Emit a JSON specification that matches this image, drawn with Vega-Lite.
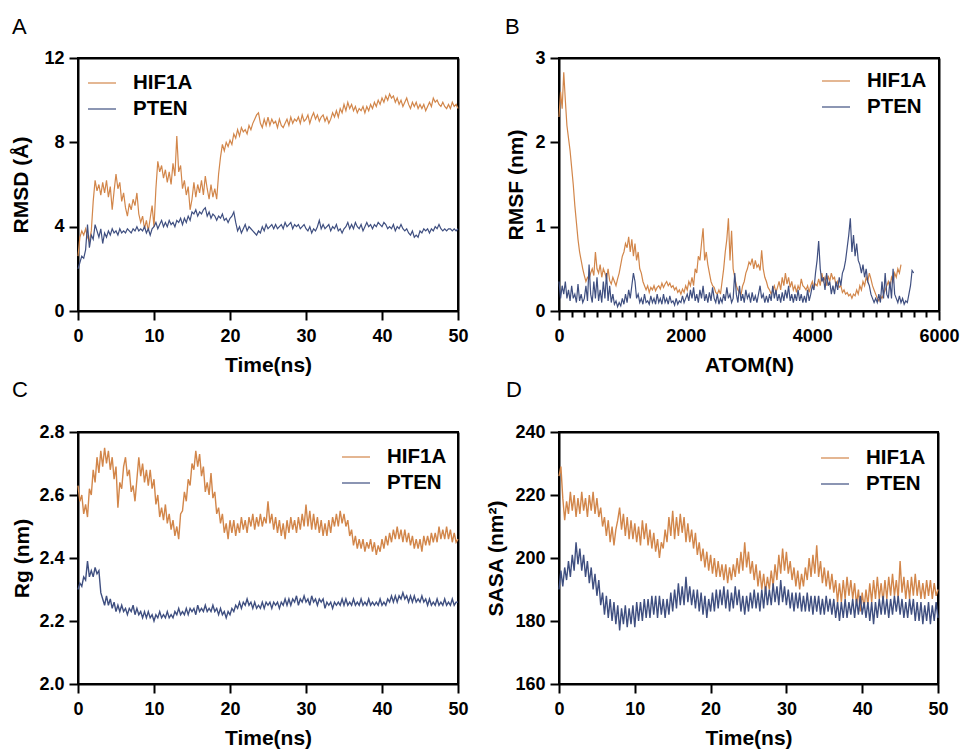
{
"$schema": "https://vega.github.io/schema/vega-lite/v6.json",
"background": "white",
"padding": {"left": 9, "top": 15, "right": 0, "bottom": 0},
"datasets": {
"a": [
{"t":0,"h":2.6,"p":2.0},{"t":0.25,"h":3.5,"p":2.3},{"t":0.5,"h":3.8,"p":2.6},{"t":0.75,"h":3.6,"p":2.5},{"t":1,"h":3.9,"p":2.9},{"t":1.25,"h":3.5,"p":4.1},{"t":1.5,"h":3.3,"p":3.0},{"t":1.75,"h":3.8,"p":3.6},{"t":2,"h":5.2,"p":3.4},{"t":2.25,"h":6.2,"p":4.1},{"t":2.5,"h":5.7,"p":3.8},{"t":2.75,"h":6.0,"p":3.5},{"t":3,"h":5.5,"p":3.9},{"t":3.25,"h":6.1,"p":3.2},{"t":3.5,"h":5.6,"p":3.7},{"t":3.75,"h":6.2,"p":3.5},{"t":4,"h":5.4,"p":3.8},{"t":4.25,"h":5.9,"p":3.6},{"t":4.5,"h":4.8,"p":3.9},{"t":4.75,"h":5.7,"p":3.7},{"t":5,"h":6.5,"p":3.8},{"t":5.25,"h":5.8,"p":3.6},{"t":5.5,"h":6.1,"p":3.9},{"t":5.75,"h":5.2,"p":3.7},{"t":6,"h":5.6,"p":3.8},{"t":6.25,"h":4.9,"p":3.7},{"t":6.5,"h":4.5,"p":3.9},{"t":6.75,"h":5.1,"p":3.8},{"t":7,"h":4.8,"p":3.7},{"t":7.25,"h":5.3,"p":3.9},{"t":7.5,"h":5.0,"p":3.8},{"t":7.75,"h":5.6,"p":4.0},{"t":8,"h":4.6,"p":3.8},{"t":8.25,"h":4.2,"p":3.9},{"t":8.5,"h":4.5,"p":3.8},{"t":8.75,"h":3.9,"p":4.0},{"t":9,"h":4.3,"p":3.7},{"t":9.25,"h":3.8,"p":3.9},{"t":9.5,"h":4.4,"p":3.6},{"t":9.75,"h":5.0,"p":3.9},{"t":10,"h":4.0,"p":4.0},{"t":10.25,"h":5.8,"p":4.2},{"t":10.5,"h":7.1,"p":3.9},{"t":10.75,"h":6.6,"p":4.1},{"t":11,"h":6.9,"p":4.3},{"t":11.25,"h":6.3,"p":4.0},{"t":11.5,"h":6.7,"p":4.2},{"t":11.75,"h":6.1,"p":4.0},{"t":12,"h":6.6,"p":4.3},{"t":12.25,"h":6.0,"p":4.1},{"t":12.5,"h":7.0,"p":4.2},{"t":12.75,"h":6.4,"p":4.0},{"t":13,"h":8.3,"p":4.3},{"t":13.25,"h":6.6,"p":4.2},{"t":13.5,"h":6.9,"p":4.4},{"t":13.75,"h":5.8,"p":4.1},{"t":14,"h":6.2,"p":4.4},{"t":14.25,"h":5.5,"p":4.2},{"t":14.5,"h":5.9,"p":4.5},{"t":14.75,"h":4.8,"p":4.3},{"t":15,"h":5.3,"p":4.7},{"t":15.25,"h":6.1,"p":4.6},{"t":15.5,"h":5.4,"p":4.8},{"t":15.75,"h":6.0,"p":4.5},{"t":16,"h":5.6,"p":4.7},{"t":16.25,"h":6.2,"p":4.6},{"t":16.5,"h":5.5,"p":4.8},{"t":16.75,"h":6.4,"p":4.9},{"t":17,"h":5.8,"p":4.5},{"t":17.25,"h":5.3,"p":4.7},{"t":17.5,"h":6.0,"p":4.4},{"t":17.75,"h":5.4,"p":4.6},{"t":18,"h":5.8,"p":4.5},{"t":18.25,"h":5.3,"p":4.3},{"t":18.5,"h":6.5,"p":4.5},{"t":18.75,"h":7.3,"p":4.4},{"t":19,"h":7.9,"p":4.6},{"t":19.25,"h":7.6,"p":4.3},{"t":19.5,"h":8.0,"p":4.4},{"t":19.75,"h":7.8,"p":4.2},{"t":20,"h":8.1,"p":4.4},{"t":20.25,"h":7.9,"p":4.5},{"t":20.5,"h":8.4,"p":4.7},{"t":20.75,"h":8.2,"p":4.2},{"t":21,"h":8.6,"p":3.8},{"t":21.25,"h":8.3,"p":4.0},{"t":21.5,"h":8.7,"p":3.7},{"t":21.75,"h":8.5,"p":3.9},{"t":22,"h":8.6,"p":4.1},{"t":22.25,"h":8.4,"p":3.8},{"t":22.5,"h":8.8,"p":4.0},{"t":22.75,"h":8.6,"p":3.9},{"t":23,"h":8.9,"p":3.8},{"t":23.25,"h":9.1,"p":3.7},{"t":23.5,"h":9.3,"p":3.6},{"t":23.75,"h":9.4,"p":3.8},{"t":24,"h":8.9,"p":3.7},{"t":24.25,"h":8.7,"p":4.0},{"t":24.5,"h":9.1,"p":3.8},{"t":24.75,"h":8.8,"p":4.1},{"t":25,"h":9.2,"p":3.9},{"t":25.25,"h":8.8,"p":4.0},{"t":25.5,"h":9.1,"p":4.1},{"t":25.75,"h":8.9,"p":3.9},{"t":26,"h":9.0,"p":4.1},{"t":26.25,"h":8.7,"p":3.9},{"t":26.5,"h":9.1,"p":4.0},{"t":26.75,"h":8.8,"p":4.1},{"t":27,"h":8.7,"p":3.9},{"t":27.25,"h":8.9,"p":4.2},{"t":27.5,"h":9.1,"p":4.0},{"t":27.75,"h":8.8,"p":4.1},{"t":28,"h":9.2,"p":4.2},{"t":28.25,"h":8.9,"p":3.9},{"t":28.5,"h":9.1,"p":4.1},{"t":28.75,"h":9.0,"p":4.0},{"t":29,"h":9.2,"p":4.1},{"t":29.25,"h":8.9,"p":3.9},{"t":29.5,"h":9.3,"p":4.0},{"t":29.75,"h":9.0,"p":4.1},{"t":30,"h":9.1,"p":3.9},{"t":30.25,"h":9.3,"p":3.8},{"t":30.5,"h":8.9,"p":4.0},{"t":30.75,"h":9.2,"p":3.7},{"t":31,"h":9.4,"p":3.9},{"t":31.25,"h":9.1,"p":3.8},{"t":31.5,"h":9.3,"p":4.0},{"t":31.75,"h":9.0,"p":4.3},{"t":32,"h":9.2,"p":3.9},{"t":32.25,"h":9.3,"p":4.1},{"t":32.5,"h":9.0,"p":3.9},{"t":32.75,"h":9.2,"p":4.0},{"t":33,"h":8.9,"p":4.1},{"t":33.25,"h":9.1,"p":3.8},{"t":33.5,"h":9.4,"p":4.0},{"t":33.75,"h":9.2,"p":3.9},{"t":34,"h":9.5,"p":4.1},{"t":34.25,"h":9.2,"p":3.8},{"t":34.5,"h":9.6,"p":3.9},{"t":34.75,"h":9.4,"p":3.7},{"t":35,"h":9.8,"p":3.9},{"t":35.25,"h":9.5,"p":4.0},{"t":35.5,"h":9.9,"p":4.2},{"t":35.75,"h":9.6,"p":3.9},{"t":36,"h":9.8,"p":4.1},{"t":36.25,"h":9.5,"p":3.9},{"t":36.5,"h":9.7,"p":4.2},{"t":36.75,"h":9.4,"p":4.0},{"t":37,"h":9.6,"p":3.9},{"t":37.25,"h":9.5,"p":4.1},{"t":37.5,"h":9.7,"p":3.8},{"t":37.75,"h":9.4,"p":4.0},{"t":38,"h":9.7,"p":4.2},{"t":38.25,"h":9.5,"p":4.0},{"t":38.5,"h":9.8,"p":4.1},{"t":38.75,"h":9.6,"p":3.9},{"t":39,"h":9.9,"p":4.1},{"t":39.25,"h":9.7,"p":4.0},{"t":39.5,"h":10.0,"p":4.2},{"t":39.75,"h":9.8,"p":4.1},{"t":40,"h":10.1,"p":4.0},{"t":40.25,"h":9.9,"p":4.2},{"t":40.5,"h":10.2,"p":4.1},{"t":40.75,"h":10.0,"p":3.9},{"t":41,"h":10.3,"p":4.0},{"t":41.25,"h":10.1,"p":3.9},{"t":41.5,"h":10.2,"p":4.1},{"t":41.75,"h":9.9,"p":3.8},{"t":42,"h":10.1,"p":4.0},{"t":42.25,"h":9.8,"p":3.9},{"t":42.5,"h":10.0,"p":4.1},{"t":42.75,"h":9.7,"p":3.9},{"t":43,"h":9.9,"p":3.8},{"t":43.25,"h":10.1,"p":3.9},{"t":43.5,"h":9.8,"p":3.7},{"t":43.75,"h":9.6,"p":3.6},{"t":44,"h":9.9,"p":3.8},{"t":44.25,"h":9.7,"p":3.5},{"t":44.5,"h":9.9,"p":3.6},{"t":44.75,"h":9.6,"p":3.5},{"t":45,"h":9.8,"p":3.8},{"t":45.25,"h":9.6,"p":3.7},{"t":45.5,"h":9.8,"p":3.9},{"t":45.75,"h":9.5,"p":3.8},{"t":46,"h":9.7,"p":3.9},{"t":46.25,"h":9.9,"p":3.7},{"t":46.5,"h":9.7,"p":3.9},{"t":46.75,"h":10.1,"p":3.8},{"t":47,"h":9.9,"p":4.0},{"t":47.25,"h":10.0,"p":3.9},{"t":47.5,"h":9.8,"p":4.1},{"t":47.75,"h":9.7,"p":3.9},{"t":48,"h":9.9,"p":3.8},{"t":48.25,"h":9.7,"p":3.9},{"t":48.5,"h":9.6,"p":3.8},{"t":48.75,"h":9.8,"p":3.9},{"t":49,"h":9.6,"p":3.9},{"t":49.25,"h":9.9,"p":3.8},{"t":49.5,"h":9.7,"p":3.9},{"t":49.75,"h":9.8,"p":3.8},{"t":50,"h":9.6,"p":3.9}
],
"b": [
{"t":0,"h":2.3,"p":0.35},{"t":25,"h":2.6,"p":0.15},{"t":50,"h":2.4,"p":0.3},{"t":75,"h":2.83,"p":0.2},{"t":100,"h":2.5,"p":0.35},{"t":125,"h":2.2,"p":0.15},{"t":150,"h":2.05,"p":0.25},{"t":175,"h":1.9,"p":0.12},{"t":200,"h":1.7,"p":0.3},{"t":225,"h":1.5,"p":0.15},{"t":250,"h":1.25,"p":0.2},{"t":275,"h":1.05,"p":0.1},{"t":300,"h":0.85,"p":0.32},{"t":325,"h":0.7,"p":0.12},{"t":350,"h":0.6,"p":0.2},{"t":375,"h":0.5,"p":0.1},{"t":400,"h":0.42,"p":0.15},{"t":425,"h":0.35,"p":0.3},{"t":450,"h":0.4,"p":0.12},{"t":475,"h":0.38,"p":0.55},{"t":500,"h":0.45,"p":0.2},{"t":525,"h":0.5,"p":0.1},{"t":550,"h":0.42,"p":0.35},{"t":575,"h":0.7,"p":0.15},{"t":600,"h":0.5,"p":0.4},{"t":625,"h":0.45,"p":0.12},{"t":650,"h":0.55,"p":0.25},{"t":675,"h":0.4,"p":0.1},{"t":700,"h":0.5,"p":0.35},{"t":725,"h":0.45,"p":0.15},{"t":750,"h":0.38,"p":0.45},{"t":775,"h":0.5,"p":0.12},{"t":800,"h":0.36,"p":0.3},{"t":825,"h":0.32,"p":0.1},{"t":850,"h":0.4,"p":0.2},{"t":875,"h":0.35,"p":0.08},{"t":900,"h":0.3,"p":0.12},{"t":925,"h":0.38,"p":0.05},{"t":950,"h":0.45,"p":0.1},{"t":975,"h":0.55,"p":0.06},{"t":1000,"h":0.65,"p":0.15},{"t":1025,"h":0.7,"p":0.08},{"t":1050,"h":0.8,"p":0.2},{"t":1075,"h":0.75,"p":0.1},{"t":1100,"h":0.88,"p":0.25},{"t":1125,"h":0.7,"p":0.15},{"t":1150,"h":0.85,"p":0.3},{"t":1175,"h":0.65,"p":0.45},{"t":1200,"h":0.8,"p":0.35},{"t":1225,"h":0.6,"p":0.15},{"t":1250,"h":0.7,"p":0.2},{"t":1275,"h":0.5,"p":0.1},{"t":1300,"h":0.45,"p":0.15},{"t":1325,"h":0.35,"p":0.08},{"t":1350,"h":0.3,"p":0.2},{"t":1375,"h":0.25,"p":0.1},{"t":1400,"h":0.3,"p":0.12},{"t":1425,"h":0.22,"p":0.08},{"t":1450,"h":0.28,"p":0.18},{"t":1475,"h":0.25,"p":0.1},{"t":1500,"h":0.3,"p":0.15},{"t":1525,"h":0.24,"p":0.08},{"t":1550,"h":0.28,"p":0.2},{"t":1575,"h":0.3,"p":0.1},{"t":1600,"h":0.26,"p":0.15},{"t":1625,"h":0.33,"p":0.08},{"t":1650,"h":0.28,"p":0.2},{"t":1675,"h":0.32,"p":0.1},{"t":1700,"h":0.35,"p":0.15},{"t":1725,"h":0.3,"p":0.08},{"t":1750,"h":0.33,"p":0.18},{"t":1775,"h":0.28,"p":0.1},{"t":1800,"h":0.3,"p":0.12},{"t":1825,"h":0.25,"p":0.07},{"t":1850,"h":0.28,"p":0.15},{"t":1875,"h":0.22,"p":0.08},{"t":1900,"h":0.25,"p":0.12},{"t":1925,"h":0.2,"p":0.1},{"t":1950,"h":0.26,"p":0.18},{"t":1975,"h":0.22,"p":0.1},{"t":2000,"h":0.3,"p":0.15},{"t":2025,"h":0.25,"p":0.2},{"t":2050,"h":0.35,"p":0.12},{"t":2075,"h":0.3,"p":0.25},{"t":2100,"h":0.4,"p":0.15},{"t":2125,"h":0.3,"p":0.28},{"t":2150,"h":0.5,"p":0.12},{"t":2175,"h":0.45,"p":0.2},{"t":2200,"h":0.65,"p":0.1},{"t":2225,"h":0.6,"p":0.25},{"t":2250,"h":0.8,"p":0.15},{"t":2275,"h":0.98,"p":0.3},{"t":2300,"h":0.6,"p":0.12},{"t":2325,"h":0.7,"p":0.2},{"t":2350,"h":0.55,"p":0.1},{"t":2375,"h":0.45,"p":0.22},{"t":2400,"h":0.35,"p":0.12},{"t":2425,"h":0.3,"p":0.28},{"t":2450,"h":0.28,"p":0.15},{"t":2475,"h":0.22,"p":0.1},{"t":2500,"h":0.2,"p":0.2},{"t":2525,"h":0.25,"p":0.08},{"t":2550,"h":0.2,"p":0.15},{"t":2575,"h":0.35,"p":0.1},{"t":2600,"h":0.5,"p":0.2},{"t":2625,"h":0.7,"p":0.12},{"t":2650,"h":0.85,"p":0.28},{"t":2675,"h":1.1,"p":0.15},{"t":2700,"h":0.6,"p":0.2},{"t":2725,"h":0.95,"p":0.1},{"t":2750,"h":0.5,"p":0.15},{"t":2775,"h":0.4,"p":0.45},{"t":2800,"h":0.3,"p":0.2},{"t":2825,"h":0.25,"p":0.1},{"t":2850,"h":0.22,"p":0.3},{"t":2875,"h":0.2,"p":0.12},{"t":2900,"h":0.3,"p":0.2},{"t":2925,"h":0.35,"p":0.1},{"t":2950,"h":0.45,"p":0.25},{"t":2975,"h":0.5,"p":0.15},{"t":3000,"h":0.58,"p":0.2},{"t":3025,"h":0.55,"p":0.1},{"t":3050,"h":0.62,"p":0.22},{"t":3075,"h":0.5,"p":0.12},{"t":3100,"h":0.6,"p":0.18},{"t":3125,"h":0.52,"p":0.1},{"t":3150,"h":0.55,"p":0.2},{"t":3175,"h":0.48,"p":0.3},{"t":3200,"h":0.72,"p":0.15},{"t":3225,"h":0.5,"p":0.2},{"t":3250,"h":0.4,"p":0.1},{"t":3275,"h":0.35,"p":0.18},{"t":3300,"h":0.28,"p":0.1},{"t":3325,"h":0.25,"p":0.2},{"t":3350,"h":0.2,"p":0.12},{"t":3375,"h":0.25,"p":0.3},{"t":3400,"h":0.3,"p":0.15},{"t":3425,"h":0.22,"p":0.25},{"t":3450,"h":0.28,"p":0.12},{"t":3475,"h":0.35,"p":0.2},{"t":3500,"h":0.25,"p":0.1},{"t":3525,"h":0.4,"p":0.22},{"t":3550,"h":0.3,"p":0.12},{"t":3575,"h":0.45,"p":0.25},{"t":3600,"h":0.32,"p":0.15},{"t":3625,"h":0.4,"p":0.3},{"t":3650,"h":0.28,"p":0.12},{"t":3675,"h":0.35,"p":0.2},{"t":3700,"h":0.25,"p":0.1},{"t":3725,"h":0.3,"p":0.2},{"t":3750,"h":0.22,"p":0.12},{"t":3775,"h":0.3,"p":0.25},{"t":3800,"h":0.25,"p":0.12},{"t":3825,"h":0.38,"p":0.2},{"t":3850,"h":0.3,"p":0.1},{"t":3875,"h":0.28,"p":0.18},{"t":3900,"h":0.25,"p":0.1},{"t":3925,"h":0.3,"p":0.25},{"t":3950,"h":0.22,"p":0.12},{"t":3975,"h":0.3,"p":0.2},{"t":4000,"h":0.35,"p":0.3},{"t":4025,"h":0.28,"p":0.25},{"t":4050,"h":0.32,"p":0.45},{"t":4075,"h":0.3,"p":0.6},{"t":4100,"h":0.38,"p":0.83},{"t":4125,"h":0.3,"p":0.5},{"t":4150,"h":0.45,"p":0.35},{"t":4175,"h":0.35,"p":0.4},{"t":4200,"h":0.4,"p":0.25},{"t":4225,"h":0.3,"p":0.45},{"t":4250,"h":0.42,"p":0.3},{"t":4275,"h":0.35,"p":0.35},{"t":4300,"h":0.45,"p":0.2},{"t":4325,"h":0.38,"p":0.3},{"t":4350,"h":0.4,"p":0.2},{"t":4375,"h":0.3,"p":0.35},{"t":4400,"h":0.35,"p":0.25},{"t":4425,"h":0.28,"p":0.4},{"t":4450,"h":0.3,"p":0.3},{"t":4475,"h":0.22,"p":0.45},{"t":4500,"h":0.25,"p":0.5},{"t":4525,"h":0.2,"p":0.6},{"t":4550,"h":0.22,"p":0.75},{"t":4575,"h":0.18,"p":0.9},{"t":4600,"h":0.2,"p":1.1},{"t":4625,"h":0.15,"p":0.7},{"t":4650,"h":0.2,"p":0.9},{"t":4675,"h":0.18,"p":0.65},{"t":4700,"h":0.25,"p":0.8},{"t":4725,"h":0.2,"p":0.6},{"t":4750,"h":0.3,"p":0.55},{"t":4775,"h":0.25,"p":0.45},{"t":4800,"h":0.35,"p":0.55},{"t":4825,"h":0.3,"p":0.4},{"t":4850,"h":0.4,"p":0.5},{"t":4875,"h":0.35,"p":0.35},{"t":4900,"h":0.45,"p":0.3},{"t":4925,"h":0.38,"p":0.2},{"t":4950,"h":0.3,"p":0.15},{"t":4975,"h":0.25,"p":0.1},{"t":5000,"h":0.2,"p":0.15},{"t":5025,"h":0.15,"p":0.1},{"t":5050,"h":0.12,"p":0.2},{"t":5075,"h":0.18,"p":0.1},{"t":5100,"h":0.15,"p":0.35},{"t":5125,"h":0.2,"p":0.15},{"t":5150,"h":0.25,"p":0.45},{"t":5175,"h":0.3,"p":0.2},{"t":5200,"h":0.35,"p":0.15},{"t":5225,"h":0.28,"p":0.35},{"t":5250,"h":0.4,"p":0.15},{"t":5275,"h":0.35,"p":0.5},{"t":5300,"h":0.45,"p":0.2},{"t":5325,"h":0.4,"p":0.15},{"t":5350,"h":0.5,"p":0.1},{"t":5375,"h":0.45,"p":0.18},{"t":5400,"h":0.55,"p":0.1},{"t":5425,"p":0.15},{"t":5450,"p":0.08},{"t":5475,"p":0.12},{"t":5500,"p":0.1},{"t":5525,"p":0.2},{"t":5550,"p":0.3},{"t":5575,"p":0.48},{"t":5600,"p":0.45}
],
"c": [
{"t":0,"h":2.63,"p":2.30},{"t":0.25,"h":2.58,"p":2.32},{"t":0.5,"h":2.60,"p":2.31},{"t":0.75,"h":2.54,"p":2.34},{"t":1,"h":2.57,"p":2.33},{"t":1.25,"h":2.53,"p":2.39},{"t":1.5,"h":2.62,"p":2.34},{"t":1.75,"h":2.60,"p":2.36},{"t":2,"h":2.68,"p":2.34},{"t":2.25,"h":2.64,"p":2.37},{"t":2.5,"h":2.72,"p":2.35},{"t":2.75,"h":2.67,"p":2.36},{"t":3,"h":2.74,"p":2.29},{"t":3.25,"h":2.69,"p":2.27},{"t":3.5,"h":2.75,"p":2.25},{"t":3.75,"h":2.70,"p":2.28},{"t":4,"h":2.74,"p":2.25},{"t":4.25,"h":2.68,"p":2.27},{"t":4.5,"h":2.72,"p":2.24},{"t":4.75,"h":2.65,"p":2.26},{"t":5,"h":2.69,"p":2.23},{"t":5.25,"h":2.56,"p":2.25},{"t":5.5,"h":2.64,"p":2.23},{"t":5.75,"h":2.62,"p":2.25},{"t":6,"h":2.69,"p":2.23},{"t":6.25,"h":2.72,"p":2.24},{"t":6.5,"h":2.66,"p":2.22},{"t":6.75,"h":2.68,"p":2.24},{"t":7,"h":2.61,"p":2.23},{"t":7.25,"h":2.63,"p":2.25},{"t":7.5,"h":2.58,"p":2.22},{"t":7.75,"h":2.65,"p":2.24},{"t":8,"h":2.72,"p":2.22},{"t":8.25,"h":2.66,"p":2.23},{"t":8.5,"h":2.70,"p":2.21},{"t":8.75,"h":2.64,"p":2.23},{"t":9,"h":2.68,"p":2.21},{"t":9.25,"h":2.63,"p":2.23},{"t":9.5,"h":2.68,"p":2.21},{"t":9.75,"h":2.62,"p":2.22},{"t":10,"h":2.65,"p":2.20},{"t":10.25,"h":2.57,"p":2.22},{"t":10.5,"h":2.60,"p":2.21},{"t":10.75,"h":2.53,"p":2.23},{"t":11,"h":2.56,"p":2.21},{"t":11.25,"h":2.52,"p":2.22},{"t":11.5,"h":2.57,"p":2.21},{"t":11.75,"h":2.51,"p":2.23},{"t":12,"h":2.54,"p":2.21},{"t":12.25,"h":2.49,"p":2.22},{"t":12.5,"h":2.52,"p":2.21},{"t":12.75,"h":2.47,"p":2.23},{"t":13,"h":2.50,"p":2.22},{"t":13.25,"h":2.46,"p":2.24},{"t":13.5,"h":2.54,"p":2.22},{"t":13.75,"h":2.55,"p":2.23},{"t":14,"h":2.61,"p":2.22},{"t":14.25,"h":2.58,"p":2.24},{"t":14.5,"h":2.65,"p":2.22},{"t":14.75,"h":2.63,"p":2.24},{"t":15,"h":2.70,"p":2.23},{"t":15.25,"h":2.68,"p":2.24},{"t":15.5,"h":2.74,"p":2.22},{"t":15.75,"h":2.69,"p":2.25},{"t":16,"h":2.73,"p":2.23},{"t":16.25,"h":2.66,"p":2.24},{"t":16.5,"h":2.69,"p":2.23},{"t":16.75,"h":2.61,"p":2.25},{"t":17,"h":2.64,"p":2.23},{"t":17.25,"h":2.60,"p":2.24},{"t":17.5,"h":2.67,"p":2.23},{"t":17.75,"h":2.59,"p":2.25},{"t":18,"h":2.61,"p":2.23},{"t":18.25,"h":2.54,"p":2.24},{"t":18.5,"h":2.56,"p":2.22},{"t":18.75,"h":2.51,"p":2.24},{"t":19,"h":2.54,"p":2.22},{"t":19.25,"h":2.48,"p":2.23},{"t":19.5,"h":2.51,"p":2.21},{"t":19.75,"h":2.46,"p":2.23},{"t":20,"h":2.52,"p":2.22},{"t":20.25,"h":2.48,"p":2.24},{"t":20.5,"h":2.52,"p":2.23},{"t":20.75,"h":2.47,"p":2.25},{"t":21,"h":2.51,"p":2.24},{"t":21.25,"h":2.48,"p":2.26},{"t":21.5,"h":2.53,"p":2.24},{"t":21.75,"h":2.49,"p":2.26},{"t":22,"h":2.52,"p":2.25},{"t":22.25,"h":2.48,"p":2.27},{"t":22.5,"h":2.53,"p":2.25},{"t":22.75,"h":2.50,"p":2.26},{"t":23,"h":2.54,"p":2.24},{"t":23.25,"h":2.49,"p":2.26},{"t":23.5,"h":2.53,"p":2.24},{"t":23.75,"h":2.50,"p":2.25},{"t":24,"h":2.54,"p":2.24},{"t":24.25,"h":2.50,"p":2.26},{"t":24.5,"h":2.53,"p":2.24},{"t":24.75,"h":2.51,"p":2.26},{"t":25,"h":2.58,"p":2.25},{"t":25.25,"h":2.51,"p":2.26},{"t":25.5,"h":2.54,"p":2.24},{"t":25.75,"h":2.49,"p":2.26},{"t":26,"h":2.53,"p":2.25},{"t":26.25,"h":2.48,"p":2.26},{"t":26.5,"h":2.52,"p":2.24},{"t":26.75,"h":2.47,"p":2.26},{"t":27,"h":2.51,"p":2.25},{"t":27.25,"h":2.46,"p":2.27},{"t":27.5,"h":2.52,"p":2.25},{"t":27.75,"h":2.48,"p":2.27},{"t":28,"h":2.53,"p":2.25},{"t":28.25,"h":2.49,"p":2.27},{"t":28.5,"h":2.52,"p":2.26},{"t":28.75,"h":2.48,"p":2.28},{"t":29,"h":2.53,"p":2.25},{"t":29.25,"h":2.49,"p":2.27},{"t":29.5,"h":2.54,"p":2.26},{"t":29.75,"h":2.50,"p":2.28},{"t":30,"h":2.57,"p":2.26},{"t":30.25,"h":2.50,"p":2.27},{"t":30.5,"h":2.55,"p":2.25},{"t":30.75,"h":2.49,"p":2.28},{"t":31,"h":2.54,"p":2.26},{"t":31.25,"h":2.49,"p":2.27},{"t":31.5,"h":2.53,"p":2.25},{"t":31.75,"h":2.48,"p":2.27},{"t":32,"h":2.52,"p":2.26},{"t":32.25,"h":2.47,"p":2.27},{"t":32.5,"h":2.51,"p":2.24},{"t":32.75,"h":2.47,"p":2.26},{"t":33,"h":2.52,"p":2.25},{"t":33.25,"h":2.48,"p":2.26},{"t":33.5,"h":2.53,"p":2.24},{"t":33.75,"h":2.50,"p":2.26},{"t":34,"h":2.54,"p":2.25},{"t":34.25,"h":2.50,"p":2.26},{"t":34.5,"h":2.55,"p":2.25},{"t":34.75,"h":2.51,"p":2.27},{"t":35,"h":2.54,"p":2.25},{"t":35.25,"h":2.50,"p":2.27},{"t":35.5,"h":2.52,"p":2.25},{"t":35.75,"h":2.47,"p":2.26},{"t":36,"h":2.49,"p":2.25},{"t":36.25,"h":2.44,"p":2.27},{"t":36.5,"h":2.47,"p":2.25},{"t":36.75,"h":2.43,"p":2.26},{"t":37,"h":2.46,"p":2.25},{"t":37.25,"h":2.43,"p":2.27},{"t":37.5,"h":2.46,"p":2.25},{"t":37.75,"h":2.42,"p":2.26},{"t":38,"h":2.45,"p":2.25},{"t":38.25,"h":2.43,"p":2.27},{"t":38.5,"h":2.46,"p":2.25},{"t":38.75,"h":2.42,"p":2.26},{"t":39,"h":2.45,"p":2.25},{"t":39.25,"h":2.41,"p":2.26},{"t":39.5,"h":2.44,"p":2.25},{"t":39.75,"h":2.42,"p":2.27},{"t":40,"h":2.46,"p":2.25},{"t":40.25,"h":2.43,"p":2.26},{"t":40.5,"h":2.47,"p":2.25},{"t":40.75,"h":2.44,"p":2.27},{"t":41,"h":2.48,"p":2.26},{"t":41.25,"h":2.45,"p":2.28},{"t":41.5,"h":2.49,"p":2.26},{"t":41.75,"h":2.46,"p":2.28},{"t":42,"h":2.50,"p":2.26},{"t":42.25,"h":2.46,"p":2.28},{"t":42.5,"h":2.49,"p":2.27},{"t":42.75,"h":2.45,"p":2.29},{"t":43,"h":2.49,"p":2.27},{"t":43.25,"h":2.45,"p":2.28},{"t":43.5,"h":2.48,"p":2.26},{"t":43.75,"h":2.44,"p":2.28},{"t":44,"h":2.47,"p":2.26},{"t":44.25,"h":2.43,"p":2.28},{"t":44.5,"h":2.46,"p":2.26},{"t":44.75,"h":2.43,"p":2.27},{"t":45,"h":2.46,"p":2.26},{"t":45.25,"h":2.42,"p":2.28},{"t":45.5,"h":2.47,"p":2.26},{"t":45.75,"h":2.44,"p":2.27},{"t":46,"h":2.47,"p":2.25},{"t":46.25,"h":2.44,"p":2.27},{"t":46.5,"h":2.48,"p":2.25},{"t":46.75,"h":2.45,"p":2.26},{"t":47,"h":2.48,"p":2.25},{"t":47.25,"h":2.45,"p":2.27},{"t":47.5,"h":2.50,"p":2.25},{"t":47.75,"h":2.46,"p":2.26},{"t":48,"h":2.49,"p":2.25},{"t":48.25,"h":2.46,"p":2.27},{"t":48.5,"h":2.50,"p":2.25},{"t":48.75,"h":2.46,"p":2.26},{"t":49,"h":2.49,"p":2.25},{"t":49.25,"h":2.45,"p":2.27},{"t":49.5,"h":2.48,"p":2.25},{"t":49.75,"h":2.45,"p":2.26},{"t":50,"h":2.46,"p":2.26}
],
"d": [
{"t":0,"h":226,"p":190},{"t":0.25,"h":229,"p":196},{"t":0.5,"h":219,"p":191},{"t":0.75,"h":212,"p":197},{"t":1,"h":218,"p":193},{"t":1.25,"h":214,"p":199},{"t":1.5,"h":221,"p":194},{"t":1.75,"h":215,"p":201},{"t":2,"h":220,"p":196},{"t":2.25,"h":213,"p":205},{"t":2.5,"h":219,"p":198},{"t":2.75,"h":214,"p":203},{"t":3,"h":221,"p":196},{"t":3.25,"h":215,"p":201},{"t":3.5,"h":219,"p":194},{"t":3.75,"h":213,"p":199},{"t":4,"h":220,"p":192},{"t":4.25,"h":215,"p":197},{"t":4.5,"h":221,"p":190},{"t":4.75,"h":214,"p":195},{"t":5,"h":219,"p":188},{"t":5.25,"h":213,"p":193},{"t":5.5,"h":216,"p":185},{"t":5.75,"h":210,"p":189},{"t":6,"h":213,"p":182},{"t":6.25,"h":207,"p":188},{"t":6.5,"h":212,"p":181},{"t":6.75,"h":205,"p":187},{"t":7,"h":210,"p":180},{"t":7.25,"h":204,"p":186},{"t":7.5,"h":209,"p":179},{"t":7.75,"h":212,"p":185},{"t":8,"h":216,"p":177},{"t":8.25,"h":209,"p":184},{"t":8.5,"h":214,"p":179},{"t":8.75,"h":207,"p":185},{"t":9,"h":213,"p":178},{"t":9.25,"h":206,"p":184},{"t":9.5,"h":212,"p":179},{"t":9.75,"h":206,"p":185},{"t":10,"h":211,"p":178},{"t":10.25,"h":205,"p":186},{"t":10.5,"h":210,"p":180},{"t":10.75,"h":204,"p":186},{"t":11,"h":212,"p":180},{"t":11.25,"h":206,"p":187},{"t":11.5,"h":211,"p":181},{"t":11.75,"h":204,"p":187},{"t":12,"h":209,"p":181},{"t":12.25,"h":203,"p":188},{"t":12.5,"h":208,"p":182},{"t":12.75,"h":202,"p":188},{"t":13,"h":206,"p":181},{"t":13.25,"h":200,"p":188},{"t":13.5,"h":205,"p":182},{"t":13.75,"h":203,"p":187},{"t":14,"h":209,"p":181},{"t":14.25,"h":205,"p":187},{"t":14.5,"h":213,"p":182},{"t":14.75,"h":207,"p":189},{"t":15,"h":215,"p":183},{"t":15.25,"h":206,"p":190},{"t":15.5,"h":213,"p":184},{"t":15.75,"h":207,"p":192},{"t":16,"h":214,"p":185},{"t":16.25,"h":208,"p":191},{"t":16.5,"h":213,"p":185},{"t":16.75,"h":205,"p":194},{"t":17,"h":211,"p":186},{"t":17.25,"h":205,"p":191},{"t":17.5,"h":209,"p":185},{"t":17.75,"h":203,"p":190},{"t":18,"h":208,"p":184},{"t":18.25,"h":201,"p":190},{"t":18.5,"h":205,"p":183},{"t":18.75,"h":199,"p":189},{"t":19,"h":203,"p":182},{"t":19.25,"h":197,"p":188},{"t":19.5,"h":202,"p":181},{"t":19.75,"h":196,"p":187},{"t":20,"h":201,"p":183},{"t":20.25,"h":195,"p":189},{"t":20.5,"h":200,"p":183},{"t":20.75,"h":194,"p":190},{"t":21,"h":199,"p":184},{"t":21.25,"h":194,"p":190},{"t":21.5,"h":198,"p":185},{"t":21.75,"h":193,"p":191},{"t":22,"h":198,"p":184},{"t":22.25,"h":192,"p":190},{"t":22.5,"h":197,"p":183},{"t":22.75,"h":193,"p":189},{"t":23,"h":198,"p":184},{"t":23.25,"h":194,"p":191},{"t":23.5,"h":200,"p":185},{"t":23.75,"h":195,"p":190},{"t":24,"h":202,"p":183},{"t":24.25,"h":196,"p":188},{"t":24.5,"h":205,"p":182},{"t":24.75,"h":197,"p":188},{"t":25,"h":202,"p":183},{"t":25.25,"h":195,"p":189},{"t":25.5,"h":199,"p":184},{"t":25.75,"h":193,"p":190},{"t":26,"h":198,"p":184},{"t":26.25,"h":191,"p":189},{"t":26.5,"h":196,"p":183},{"t":26.75,"h":190,"p":190},{"t":27,"h":195,"p":184},{"t":27.25,"h":189,"p":191},{"t":27.5,"h":194,"p":185},{"t":27.75,"h":190,"p":190},{"t":28,"h":196,"p":185},{"t":28.25,"h":191,"p":192},{"t":28.5,"h":198,"p":186},{"t":28.75,"h":193,"p":191},{"t":29,"h":201,"p":185},{"t":29.25,"h":195,"p":193},{"t":29.5,"h":203,"p":186},{"t":29.75,"h":196,"p":191},{"t":30,"h":202,"p":185},{"t":30.25,"h":195,"p":190},{"t":30.5,"h":199,"p":184},{"t":30.75,"h":193,"p":189},{"t":31,"h":197,"p":183},{"t":31.25,"h":191,"p":189},{"t":31.5,"h":196,"p":184},{"t":31.75,"h":190,"p":189},{"t":32,"h":195,"p":183},{"t":32.25,"h":191,"p":188},{"t":32.5,"h":197,"p":183},{"t":32.75,"h":193,"p":189},{"t":33,"h":200,"p":183},{"t":33.25,"h":194,"p":188},{"t":33.5,"h":201,"p":182},{"t":33.75,"h":195,"p":188},{"t":34,"h":204,"p":183},{"t":34.25,"h":194,"p":188},{"t":34.5,"h":199,"p":182},{"t":34.75,"h":192,"p":187},{"t":35,"h":197,"p":182},{"t":35.25,"h":191,"p":188},{"t":35.5,"h":196,"p":183},{"t":35.75,"h":190,"p":187},{"t":36,"h":195,"p":182},{"t":36.25,"h":189,"p":187},{"t":36.5,"h":193,"p":181},{"t":36.75,"h":186,"p":186},{"t":37,"h":192,"p":180},{"t":37.25,"h":186,"p":186},{"t":37.5,"h":193,"p":181},{"t":37.75,"h":187,"p":187},{"t":38,"h":194,"p":181},{"t":38.25,"h":188,"p":186},{"t":38.5,"h":193,"p":182},{"t":38.75,"h":187,"p":187},{"t":39,"h":192,"p":181},{"t":39.25,"h":185,"p":187},{"t":39.5,"h":190,"p":182},{"t":39.75,"h":183,"p":188},{"t":40,"h":189,"p":182},{"t":40.25,"h":184,"p":186},{"t":40.5,"h":190,"p":181},{"t":40.75,"h":185,"p":186},{"t":41,"h":192,"p":180},{"t":41.25,"h":186,"p":186},{"t":41.5,"h":193,"p":179},{"t":41.75,"h":187,"p":186},{"t":42,"h":194,"p":181},{"t":42.25,"h":187,"p":187},{"t":42.5,"h":192,"p":182},{"t":42.75,"h":186,"p":188},{"t":43,"h":193,"p":182},{"t":43.25,"h":187,"p":187},{"t":43.5,"h":194,"p":181},{"t":43.75,"h":188,"p":187},{"t":44,"h":195,"p":182},{"t":44.25,"h":188,"p":188},{"t":44.5,"h":193,"p":183},{"t":44.75,"h":187,"p":188},{"t":45,"h":199,"p":182},{"t":45.25,"h":189,"p":187},{"t":45.5,"h":194,"p":181},{"t":45.75,"h":187,"p":186},{"t":46,"h":193,"p":181},{"t":46.25,"h":187,"p":187},{"t":46.5,"h":194,"p":182},{"t":46.75,"h":188,"p":187},{"t":47,"h":195,"p":180},{"t":47.25,"h":188,"p":186},{"t":47.5,"h":193,"p":180},{"t":47.75,"h":187,"p":186},{"t":48,"h":192,"p":179},{"t":48.25,"h":187,"p":185},{"t":48.5,"h":193,"p":180},{"t":48.75,"h":188,"p":186},{"t":49,"h":193,"p":179},{"t":49.25,"h":187,"p":185},{"t":49.5,"h":192,"p":180},{"t":49.75,"h":188,"p":186},{"t":50,"h":190,"p":181}
]
},
"columns": 2,
"spacing": {"row": 121, "column": 101},
"bounds": "flush",
"resolve": {"scale": {"x": "independent", "y": "independent", "color": "independent"}, "legend": {"color": "independent"}},
"concat": [
{
"width": 380, "height": 253,
"title": {"text": "A", "dx": -66, "offset": 10},
"data": {"name": "a"},
"transform": [{"fold": ["h", "p"], "as": ["s", "v"]}],
"mark": {"type": "line"},
"encoding": {
"x": {"field": "t", "type": "quantitative", "scale": {"domain": [0, 50], "nice": false}, "axis": {"title": "Time(ns)", "values": [0, 10, 20, 30, 40, 50], "grid": true, "gridOpacity": {"condition": {"test": "datum.value >= 49.9", "value": 1}, "value": 0}}},
"y": {"field": "v", "type": "quantitative", "scale": {"domain": [0, 12], "nice": false}, "axis": {"title": "RMSD (Å)", "values": [0, 4, 8, 12], "titlePadding": 12, "grid": true, "gridOpacity": {"condition": {"test": "datum.value >= 11.9", "value": 1}, "value": 0}}},
"color": {"field": "s", "type": "nominal", "scale": {"domain": ["h", "p"], "range": ["#D2864A", "#3F4F80"]}, "legend": {"title": null, "legendX": 9, "legendY": 10, "labelExpr": "datum.value == 'h' ? 'HIF1A' : 'PTEN'"}}
}
},
{
"width": 380, "height": 253,
"title": {"text": "B", "dx": -54, "offset": 10},
"data": {"name": "b"},
"transform": [{"fold": ["h", "p"], "as": ["s", "v"]}],
"mark": {"type": "line"},
"encoding": {
"x": {"field": "t", "type": "quantitative", "scale": {"domain": [0, 6000], "nice": false}, "axis": {"title": "ATOM(N)", "values": [0,200,400,600,800,1000,1200,1400,1600,1800,2000,2200,2400,2600,2800,3000,3200,3400,3600,3800,4000,4200,4400,4600,4800,5000,5200,5400,5600,5800,6000], "labelExpr": "datum.value % 2000 === 0 ? '' + datum.value : ''", "tickSize": {"condition": {"test": "datum.value % 2000 === 0", "value": 9}, "value": 6}, "grid": true, "gridOpacity": {"condition": {"test": "datum.value >= 5999", "value": 1}, "value": 0}}},
"y": {"field": "v", "type": "quantitative", "scale": {"domain": [0, 3], "nice": false}, "axis": {"title": "RMSF (nm)", "values": [0, 1, 2, 3], "titlePadding": 8, "grid": true, "gridOpacity": {"condition": {"test": "datum.value >= 2.99", "value": 1}, "value": 0}}},
"color": {"field": "s", "type": "nominal", "scale": {"domain": ["h", "p"], "range": ["#D2864A", "#3F4F80"]}, "legend": {"title": null, "legendX": 262, "legendY": 8, "labelExpr": "datum.value == 'h' ? 'HIF1A' : 'PTEN'"}}
}
},
{
"width": 380, "height": 252,
"title": {"text": "C", "dx": -66, "offset": 21},
"data": {"name": "c"},
"transform": [{"fold": ["h", "p"], "as": ["s", "v"]}],
"mark": {"type": "line", "strokeWidth": 1.4},
"encoding": {
"x": {"field": "t", "type": "quantitative", "scale": {"domain": [0, 50], "nice": false}, "axis": {"title": "Time(ns)", "values": [0, 10, 20, 30, 40, 50], "grid": true, "gridOpacity": {"condition": {"test": "datum.value >= 49.9", "value": 1}, "value": 0}}},
"y": {"field": "v", "type": "quantitative", "scale": {"domain": [2.0, 2.8], "nice": false, "zero": false}, "axis": {"title": "Rg (nm)", "values": [2.0, 2.2, 2.4, 2.6, 2.8], "format": ".1f", "titlePadding": 6, "grid": true, "gridOpacity": {"condition": {"test": "datum.value >= 2.79", "value": 1}, "value": 0}}},
"color": {"field": "s", "type": "nominal", "scale": {"domain": ["h", "p"], "range": ["#D2864A", "#3F4F80"]}, "legend": {"title": null, "legendX": 263, "legendY": 10, "labelExpr": "datum.value == 'h' ? 'HIF1A' : 'PTEN'"}}
}
},
{
"width": 379, "height": 252,
"title": {"text": "D", "dx": -53, "offset": 21},
"data": {"name": "d"},
"transform": [{"fold": ["h", "p"], "as": ["s", "v"]}],
"mark": {"type": "line", "strokeWidth": 1.4},
"encoding": {
"x": {"field": "t", "type": "quantitative", "scale": {"domain": [0, 50], "nice": false}, "axis": {"title": "Time(ns)", "values": [0, 10, 20, 30, 40, 50], "grid": true, "gridOpacity": {"condition": {"test": "datum.value >= 49.9", "value": 1}, "value": 0}}},
"y": {"field": "v", "type": "quantitative", "scale": {"domain": [160, 240], "nice": false, "zero": false}, "axis": {"title": "SASA (nm²)", "values": [160, 180, 200, 220, 240], "titlePadding": 8, "grid": true, "gridOpacity": {"condition": {"test": "datum.value >= 239", "value": 1}, "value": 0}}},
"color": {"field": "s", "type": "nominal", "scale": {"domain": ["h", "p"], "range": ["#D2864A", "#3F4F80"]}, "legend": {"title": null, "legendX": 261, "legendY": 11, "labelExpr": "datum.value == 'h' ? 'HIF1A' : 'PTEN'"}}
}
}
],
"config": {
"font": "Liberation Sans",
"view": {"stroke": "#000", "strokeWidth": 2},
"line": {"strokeWidth": 1.2},
"axis": {"grid": false, "gridColor": "#000", "gridWidth": 2, "domainColor": "#000", "domainWidth": 2, "tickColor": "#000", "tickWidth": 2, "tickSize": 9, "labelFont": "Liberation Sans", "labelFontSize": 18, "labelFontWeight": "bold", "labelColor": "#000", "labelPadding": 5, "labelFlush": false, "labelOverlap": false, "titleFont": "Liberation Sans", "titleFontSize": 21, "titleFontWeight": "bold", "titleColor": "#000"},
"axisX": {"labelPadding": 7, "titlePadding": 9},
"legend": {"orient": "none", "symbolType": "stroke", "symbolSize": 784, "symbolStrokeWidth": 1.6, "labelFont": "Liberation Sans", "labelFontSize": 20.5, "labelFontWeight": "bold", "labelColor": "#000", "labelOffset": 16, "padding": 0, "rowPadding": -3},
"title": {"font": "Liberation Sans", "fontSize": 22, "fontWeight": "normal", "anchor": "start", "frame": "group", "baseline": "alphabetic", "color": "#000"}
}
}
